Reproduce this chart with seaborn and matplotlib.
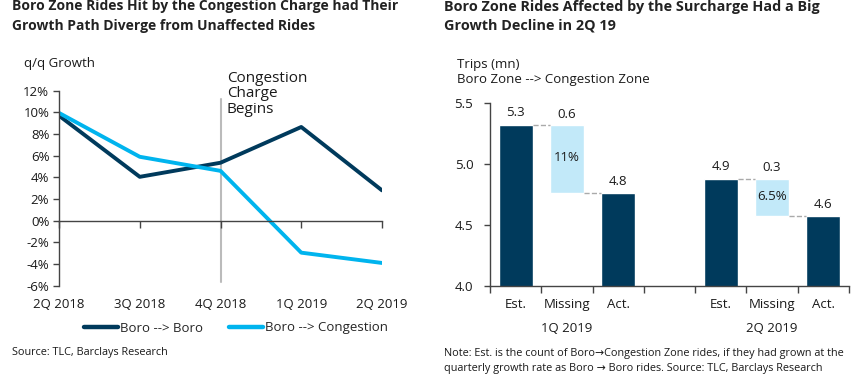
import matplotlib
matplotlib.use("Agg")
import matplotlib.pyplot as plt
from matplotlib.lines import Line2D
import seaborn as sns
import pandas as pd
import numpy as np

# ---------------- data ----------------
quarters = ["2Q 2018", "3Q 2018", "4Q 2018", "1Q 2019", "2Q 2019"]
boro_boro = [9.7, 4.05, 5.35, 8.65, 2.8]
boro_cong = [9.95, 5.9, 4.6, -2.95, -3.9]
series_names = ["Boro --> Boro", "Boro --> Congestion"]
left_yticks = [12, 10, 8, 6, 4, 2, 0, -2, -4, -6]

groups = ["1Q 2019", "2Q 2019"]
est_vals = [5.32, 4.88]
act_vals = [4.76, 4.57]
missing_labels = ["0.6", "0.3"]
missing_pct = ["11%", "6.5%"]
est_labels = ["5.3", "4.9"]
act_labels = ["4.8", "4.6"]
bar_cats = ["Est.", "Missing", "Act."]
right_yticks = [4.0, 4.5, 5.0, 5.5]

DARK = "#003A5C"
LIGHT = "#00B4EE"
PALE = "#C2E9F9"
TXT = "#1a1a1a"

sns.set_theme(style="white")
plt.rcParams["font.family"] = ["Open Sans", "DejaVu Sans"]

W, H = 859, 384
fig = plt.figure(figsize=(W / 100, H / 100), dpi=100)


def ax_px(x0, y_top, x1, y_bot):
    return fig.add_axes([x0 / W, 1 - y_bot / H, (x1 - x0) / W, (y_bot - y_top) / H])


# ---------------- left chart ----------------
axl = ax_px(59, 90.7, 382, 285.7)
df = pd.DataFrame({
    "x": list(range(len(quarters))) * 2,
    "v": boro_boro + boro_cong,
    "s": [series_names[0]] * len(quarters) + [series_names[1]] * len(quarters),
})
sns.lineplot(data=df, x="x", y="v", hue="s", palette=[DARK, LIGHT], lw=2.8,
             ax=axl, legend=False)
axl.set_xlim(0, len(quarters) - 1)
axl.set_ylim(-6, 12)
axl.set_xlabel("")
axl.set_ylabel("")
axl.set_yticks(left_yticks)
axl.set_yticklabels([f"{v}%" for v in left_yticks], fontsize=9.5, color=TXT)
axl.set_xticks(range(len(quarters)))
axl.set_xticklabels([])
axl.spines["bottom"].set_position(("data", 0))
for s in ["top", "right"]:
    axl.spines[s].set_visible(False)
for s in ["left", "bottom"]:
    axl.spines[s].set_color("#444444")
    axl.spines[s].set_linewidth(1.0)
axl.tick_params(axis="y", direction="out", length=4, width=1, color="#444444", pad=3, left=True)
axl.tick_params(axis="x", direction="out", length=5, width=1, color="#444444", bottom=True)
for i, q in enumerate(quarters):
    axl.annotate(q, xy=(i, -6), xytext=(0, -9), textcoords="offset points",
                 ha="center", va="top", fontsize=9.5, color=TXT, annotation_clip=False)
axl.axvline(2, ymin=0.02, ymax=0.96, color="#BBBBBB", lw=1.5, zorder=0)
fig.text(227 / W, 1 - 70.5 / H, "Congestion\nCharge\nBegins", ha="left", va="top",
         fontsize=11.0, color=TXT, linespacing=1.05)

fig.text(12 / W, 1 - 16 / H, "Boro Zone Rides Hit by the Congestion Charge had Their\nGrowth Path Diverge from Unaffected Rides",
         ha="left", va="center", fontsize=10.0, fontweight="bold", color="#222222", linespacing=1.5)
fig.text(24 / W, 1 - 64 / H, "q/q Growth", ha="left", va="center", fontsize=9.5, color=TXT)

handles = [Line2D([], [], color=DARK, lw=3.2), Line2D([], [], color=LIGHT, lw=3.2)]
fig.legend(handles, series_names, loc="center", bbox_to_anchor=(236 / W, 1 - 328 / H),
           ncol=2, frameon=False, fontsize=9.5, handlelength=2.6, handletextpad=0.2,
           columnspacing=1.9)
fig.text(12 / W, 1 - 352 / H, "Source: TLC, Barclays Research", ha="left", va="center",
         fontsize=7.8, color=TXT)

# ---------------- right chart ----------------
axr = ax_px(490, 103, 849, 285.7)
slots = [f"{c}|{g}" for g in groups for c in bar_cats]
slots = slots[:3] + ["gap"] + slots[3:]
solid = {}
for gi, g in enumerate(groups):
    solid[f"Est.|{g}"] = est_vals[gi]
    solid[f"Act.|{g}"] = act_vals[gi]
bdf = pd.DataFrame({"slot": list(solid.keys()), "val": list(solid.values())})
sns.barplot(data=bdf, x="slot", y="val", order=slots, color=DARK, saturation=1,
            width=0.66, ax=axr)
bw = 0.66
pct_pos = [0.48, 0.47]
for gi, g in enumerate(groups):
    xe = slots.index(f"Est.|{g}")
    xm = slots.index(f"Missing|{g}")
    xa = slots.index(f"Act.|{g}")
    top, bot = est_vals[gi], act_vals[gi]
    axr.bar(xm, top - bot, bottom=bot, width=bw, color=PALE, zorder=2)
    axr.plot([xe + bw / 2, xm - bw / 2], [top, top], ls="--", color="#AAAAAA", lw=1)
    axr.plot([xm + bw / 2, xa - bw / 2], [bot, bot], ls="--", color="#AAAAAA", lw=1)
    axr.annotate(est_labels[gi], xy=(xe, top), xytext=(0, 4), textcoords="offset points",
                 ha="center", va="bottom", fontsize=9.5, color=TXT)
    axr.annotate(missing_labels[gi], xy=(xm, top), xytext=(0, 3), textcoords="offset points",
                 ha="center", va="bottom", fontsize=9.5, color=TXT)
    axr.annotate(act_labels[gi], xy=(xa, bot), xytext=(0, 4), textcoords="offset points",
                 ha="center", va="bottom", fontsize=9.5, color=TXT)
    axr.text(xm, top - (top - bot) * pct_pos[gi], missing_pct[gi], ha="center", va="center",
             fontsize=9.5, color=TXT)
    axr.annotate(g, xy=(xm, 4.0), xytext=(0, -26), textcoords="offset points",
                 ha="center", va="top", fontsize=9.5, color=TXT, annotation_clip=False)
    for c in bar_cats:
        xi = slots.index(f"{c}|{g}")
        axr.annotate(c, xy=(xi, 4.0), xytext=(0, -9), textcoords="offset points",
                     ha="center", va="top", fontsize=9.5, color=TXT, annotation_clip=False)

axr.set_xlim(-0.5, len(slots) - 0.5)
axr.set_ylim(4.0, 5.5)
axr.set_xticks(np.arange(-0.5, len(slots), 1.0))
axr.set_xticklabels([])
axr.set_yticks(right_yticks)
axr.set_yticklabels([f"{v:.1f}" for v in right_yticks], fontsize=9.5, color=TXT)
axr.set_xlabel("")
axr.set_ylabel("")
for s in ["top", "right"]:
    axr.spines[s].set_visible(False)
for s in ["left", "bottom"]:
    axr.spines[s].set_color("#444444")
    axr.spines[s].set_linewidth(1.0)
axr.tick_params(axis="y", direction="out", length=4, width=1, color="#444444", pad=8, left=True)
axr.tick_params(axis="x", direction="out", length=5, width=1, color="#444444", bottom=True)

fig.text(444 / W, 1 - 16 / H, "Boro Zone Rides Affected by the Surcharge Had a Big\nGrowth Decline in 2Q 19",
         ha="left", va="center", fontsize=10.4, fontweight="bold", color="#222222", linespacing=1.45)
fig.text(457 / W, 1 - 72 / H, "Trips (mn)\nBoro Zone --> Congestion Zone", ha="left", va="center",
         fontsize=9.5, color=TXT, linespacing=1.15)
fig.text(444 / W, 1 - 361 / H,
         "Note: Est. is the count of Boro\u2192Congestion Zone rides, if they had grown at the\nquarterly growth rate as Boro \u2192 Boro rides. Source: TLC, Barclays Research",
         ha="left", va="center", fontsize=7.8, color=TXT, linespacing=1.45)

fig.savefig("out.png", dpi=100)
